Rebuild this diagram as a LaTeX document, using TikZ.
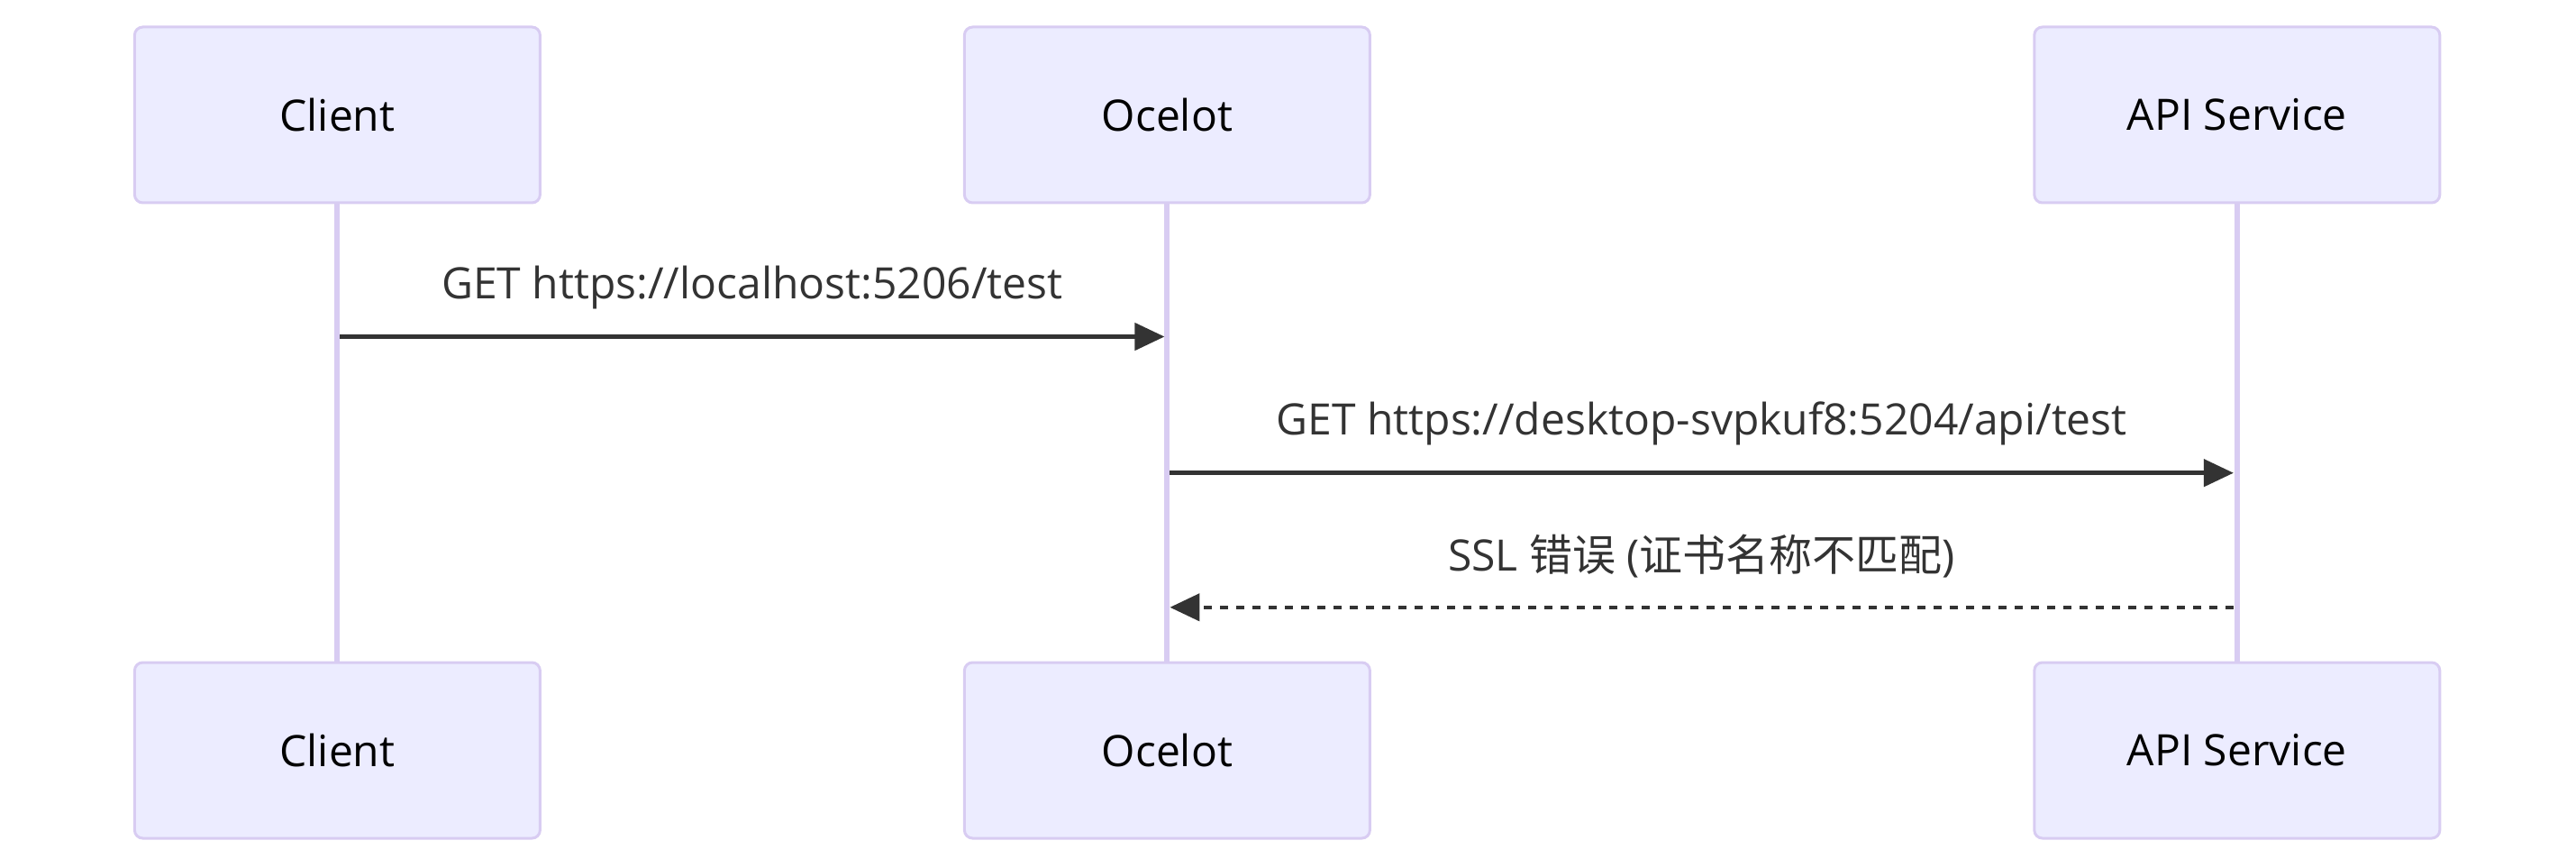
\documentclass[tikz,border=0pt]{standalone}
\usepackage{fontspec}
\setmainfont{Open Sans}
\newfontfamily\cjkfont{Noto Sans CJK SC}
\usepackage{tikz}
\usetikzlibrary{calc}
\usetikzlibrary{arrows.meta}
\usetikzlibrary{positioning}
\definecolor{actorfill}{RGB}{236, 236, 255}
\definecolor{actorline}{RGB}{216, 204, 242}
\definecolor{msgline}{RGB}{51, 51, 51}
\tikzset{
    actor/.style={draw=actorline, fill=actorfill, line width=1pt, rounded corners=3pt,
                  minimum width=150pt, minimum height=65pt, inner sep=0pt,
                  font=\fontsize{16}{19}\selectfont},
    lifeline/.style={draw=actorline, line width=2pt},
    msg/.style={draw=msgline, line width=1.5pt, -{Triangle[length=11pt, width=10pt]}},
    reply/.style={msg, dash pattern=on 3pt off 3pt},
    msglabel/.style={text=msgline, inner sep=0pt, font=\fontsize{16}{19}\selectfont}
}

\begin{document}
\begin{tikzpicture}[x=1pt, y=-1pt]
            \useasboundingbox                                  (  0.0,  0.0) rectangle (953.0, 321.0);
            \node[actor] (ClientTop)                        at (124.8, 42.5) {Client};
            \node[actor] (OcelotTop)                        at (431.8, 42.5) {Ocelot};
            \node[actor] (ApiTop)                           at (827.6, 42.5) {API Service};
            \node[actor] (ClientBot)                        at (124.8,277.5) {Client};
            \node[actor] (OcelotBot)                        at (431.8,277.5) {Ocelot};
            \node[actor] (ApiBot)                           at (827.6,277.5) {API Service};
            \draw[lifeline] (ClientTop) -- (ClientBot);
            \draw[lifeline] (OcelotTop) -- (OcelotBot);
            \draw[lifeline] (ApiTop)    -- (ApiBot);
            \coordinate (reqA)                              at (125.8,124.5);
            \coordinate (reqB)                              at (430.8,124.5);
            \coordinate (fwdA)                              at (432.8,174.9);
            \coordinate (fwdB)                              at (826.3,174.9);
            \coordinate (errA)                              at (826.3,224.6);
            \coordinate (errB)                              at (432.8,224.6);
            \draw[msg]   (reqA) -- (reqB);
            \draw[msg]   (fwdA) -- (fwdB);
            \draw[reply] (errA) -- (errB);
            \node[msglabel] (reqText) at ($(reqA)!0.5!(reqB) + (0,-18.2)$) {GET https://localhost:5206/test};
            \node[msglabel] (fwdText) at ($(fwdA)!0.5!(fwdB) + (0,-18.2)$) {GET https://desktop-svpkuf8:5204/api/test};
            \node[msglabel] (errText) at ($(errA)!0.5!(errB) + (0,-18.8)$) {SSL {\cjkfont 错误} ({\cjkfont 证书名称不匹配})};
        \end{tikzpicture}
\end{document}
